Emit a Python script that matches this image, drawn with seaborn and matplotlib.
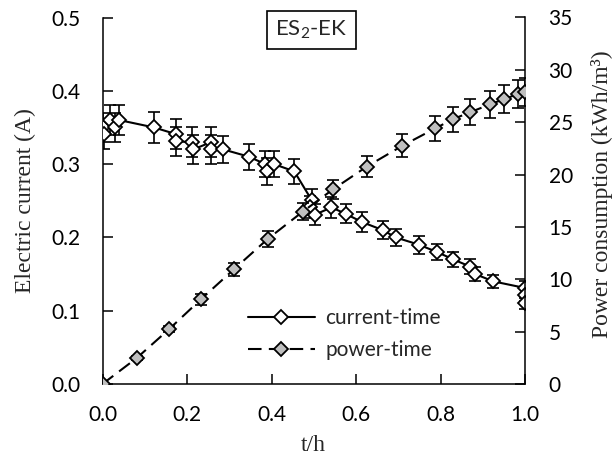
import numpy as np
import pandas as pd
import matplotlib
matplotlib.use("Agg")
import matplotlib.pyplot as plt
import seaborn as sns

# ---- data ----
t_current = [0.002, 0.004, 0.018, 0.030, 0.040, 0.122, 0.173, 0.173, 0.213, 0.215,
             0.257, 0.257, 0.286, 0.347, 0.385, 0.389, 0.406, 0.454, 0.495, 0.491,
             0.503, 0.542, 0.576, 0.614, 0.663, 0.694, 0.749, 0.792, 0.830, 0.871,
             0.882, 0.925, 1.000, 1.000, 1.000]
current = [0.350, 0.341, 0.360, 0.350, 0.360, 0.350, 0.341, 0.331, 0.330, 0.320,
           0.330, 0.320, 0.320, 0.310, 0.300, 0.290, 0.300, 0.290, 0.251, 0.242,
           0.231, 0.241, 0.232, 0.221, 0.210, 0.200, 0.190, 0.180, 0.170, 0.160,
           0.150, 0.140, 0.131, 0.121, 0.110]
current_err = [0.020, 0.020, 0.020, 0.020, 0.020, 0.021, 0.020, 0.020, 0.020, 0.020,
               0.020, 0.020, 0.019, 0.018, 0.018, 0.018, 0.018, 0.017, 0.015, 0.015,
               0.014, 0.014, 0.013, 0.013, 0.0125, 0.012, 0.012, 0.011, 0.010, 0.010,
               0.010, 0.0085, 0.009, 0.008, 0.008]

t_power = [0.0, 0.081, 0.158, 0.233, 0.311, 0.391, 0.474, 0.546, 0.625, 0.710,
           0.787, 0.830, 0.870, 0.917, 0.950, 0.984, 1.000]
power = [0.0, 2.48, 5.25, 8.09, 10.95, 13.85, 16.46, 18.6, 20.75, 22.76,
         24.4, 25.3, 25.95, 26.7, 27.2, 27.7, 27.9]
power_err = [0.0, 0.2, 0.3, 0.5, 0.65, 0.72, 0.8, 0.9, 1.0, 1.1,
             1.18, 1.2, 1.25, 1.3, 1.35, 1.35, 1.35]

x_ticks = [0.0, 0.2, 0.4, 0.6, 0.8, 1.0]
y_left_ticks = [0.0, 0.1, 0.2, 0.3, 0.4, 0.5]
y_right_ticks = [0, 5, 10, 15, 20, 25, 30, 35]

df_c = pd.DataFrame({"t": t_current, "I": current, "err": current_err})
df_p = pd.DataFrame({"t": t_power, "P": power, "err": power_err})

# ---- style ----
sns.set_style("white")
plt.rcParams["font.family"] = ["Lato", "DejaVu Sans"]
plt.rcParams["mathtext.default"] = "regular"
serif = ["Liberation Serif", "DejaVu Serif"]

fig = plt.figure(figsize=(6.14, 4.59), dpi=100)
ax = fig.add_axes([102.5 / 614, 1 - 384 / 459, 422.5 / 614, 366.5 / 459])
ax2 = ax.twinx()

gray = "#BFBFBF"
lw_ax = 1.1

# current-time
ax.errorbar(df_c["t"], df_c["I"], yerr=df_c["err"], fmt="none", ecolor="black",
            elinewidth=1.2, capsize=4.5, capthick=1.2, zorder=1)
sns.lineplot(data=df_c, x="t", y="I", ax=ax, sort=False, estimator=None,
             color="black", linewidth=1.5, marker="D", markersize=6.8,
             markerfacecolor="white", markeredgecolor="black", markeredgewidth=1.3,
             label="current-time", zorder=3)

# power-time
ax2.errorbar(df_p["t"], df_p["P"], yerr=df_p["err"], fmt="none", ecolor="black",
             elinewidth=1.2, capsize=4.5, capthick=1.2, zorder=1)
sns.lineplot(data=df_p, x="t", y="P", ax=ax2, sort=False, estimator=None,
             color="black", linewidth=1.5, linestyle=(0, (6.5, 3.5)), marker="D",
             markersize=6.8, markerfacecolor=gray, markeredgecolor="black",
             markeredgewidth=1.3, label="power-time", zorder=3)

# axes limits / ticks
ax.set_xlim(0, 1.0)
ax.set_ylim(0, 0.5)
ax2.set_ylim(0, 35)
ax.set_xticks(x_ticks)
ax.set_xticklabels([f"{v:.1f}" for v in x_ticks])
ax.set_yticks(y_left_ticks)
ax.set_yticklabels([f"{v:.1f}" for v in y_left_ticks])
ax2.set_yticks(y_right_ticks)
ax2.set_yticklabels([str(v) for v in y_right_ticks])

for a in (ax, ax2):
    a.spines["top"].set_visible(False)
    for s in a.spines.values():
        s.set_linewidth(lw_ax)
        s.set_color("black")
ax.spines["right"].set_visible(False)
ax2.spines["left"].set_visible(False)
ax2.spines["bottom"].set_visible(False)

ax.tick_params(axis="y", direction="in", length=7, width=lw_ax, labelsize=15,
               pad=16, colors="black", left=True, right=False)
ax.tick_params(axis="x", direction="in", length=7, width=lw_ax, labelsize=15,
               pad=15, colors="black", bottom=True, top=False)
ax2.tick_params(axis="y", direction="in", length=7, width=lw_ax, labelsize=15,
                pad=17, colors="black", right=True, left=False)

# labels
ax.set_xlabel("t/h", fontsize=17, family=serif, va="center")
ax.xaxis.set_label_coords(0.5, -0.169)
ax.set_ylabel("Electric current (A)", fontsize=17, family=serif, va="center")
ax.yaxis.set_label_coords(-0.183, 0.5)
ax2.set_ylabel("Power consumption (kWh/m³)", fontsize=17, family=serif,
               va="center", rotation=90)
ax2.yaxis.set_label_coords(1.182, 0.518)

# legend
if ax.get_legend() is not None:
    ax.get_legend().remove()
h1, l1 = ax.get_legend_handles_labels()
h2, l2 = ax2.get_legend_handles_labels()
leg = ax2.legend(h1 + h2, l1 + l2, loc="upper left",
                 bbox_to_anchor=(248 / 614, 1 - 308.5 / 459),
                 bbox_transform=fig.transFigure, frameon=False, fontsize=15,
                 handlelength=3.2, handletextpad=0.5, labelspacing=0.55,
                 borderpad=0, borderaxespad=0)

# title box
fig.text(311.5 / 614, 1 - 30 / 459, "ES$_\\mathregular{2}$-EK", fontsize=16,
         ha="center", va="center",
         bbox=dict(boxstyle="square,pad=0.35", fc="white", ec="black", lw=1.2))

fig.savefig("out.png", dpi=100)
